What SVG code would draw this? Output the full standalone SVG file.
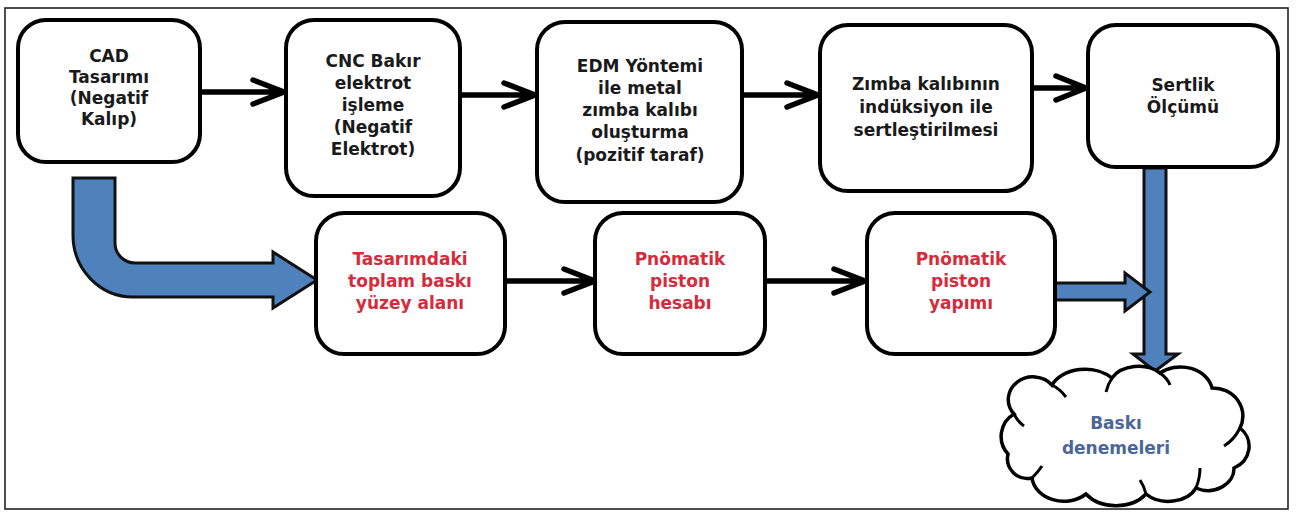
<svg xmlns="http://www.w3.org/2000/svg" width="1296" height="516" viewBox="0 0 1296 516">
<style>
.frame{fill:#ffffff;stroke:#222;stroke-width:1.6}
.box{fill:#ffffff;stroke:#000;stroke-width:4}
.t{font-family:"DejaVu Sans",Verdana,sans-serif;font-weight:bold;font-size:17px;text-anchor:middle;fill:#1a1a1a}
.r{fill:#D52B3A}
.c{fill:#4A6796}
.bl{fill:none;stroke:#000;stroke-width:5.5;stroke-linecap:round;stroke-linejoin:miter}
.blue{fill:#4F81BD;stroke:#111;stroke-width:3;stroke-linejoin:miter}
.cloud{fill:#ffffff;stroke:#000;stroke-width:3.5}
</style>
<rect class="frame" x="5" y="8" width="1283" height="501"/>

<g id="connectors">
  <path class="bl" d="M200 92 H284 M253 80 L284 92 L253 104"/>
  <path class="bl" d="M460 95 H535 M504 83 L535 95 L504 107"/>
  <path class="bl" d="M742 95 H818 M787 83 L818 95 L787 107"/>
  <path class="bl" d="M1032 88 H1086 M1056 76 L1086 88 L1056 100"/>
  <path class="bl" d="M505 281 H595 M564 269 L595 281 L564 293"/>
  <path class="bl" d="M765 281 H865 M834 269 L865 281 L834 293"/>
  <path class="blue" d="M73 178 H115 V243 A20 20 0 0 0 135 263 H273 V252 L317 280 L273 308 V297 H133 A60 62 0 0 1 73 235 Z"/>
  <path class="blue" d="M1144 168 H1166 V354 H1178 L1155 371 L1133 354 H1144 Z"/>
  <path class="blue" d="M1055 283 H1125 V273 L1150 292 L1125 311 V300 H1055 Z"/>
</g>

<g id="n1"><rect class="box" x="18" y="20" width="182" height="142" rx="28"/>
<text class="t"><tspan x="109" y="62">CAD</tspan><tspan x="109" y="83">Tasarımı</tspan><tspan x="109" y="104">(Negatif</tspan><tspan x="109" y="125">Kalıp)</tspan></text></g>

<g id="n2"><rect class="box" x="286" y="20" width="174" height="176" rx="28"/>
<text class="t"><tspan x="373" y="67">CNC Bakır</tspan><tspan x="373" y="89">elektrot</tspan><tspan x="373" y="111">işleme</tspan><tspan x="373" y="133">(Negatif</tspan><tspan x="373" y="155">Elektrot)</tspan></text></g>

<g id="n3"><rect class="box" x="537" y="22" width="205" height="180" rx="28"/>
<text class="t"><tspan x="640" y="72">EDM Yöntemi</tspan><tspan x="640" y="94">ile metal</tspan><tspan x="640" y="116">zımba kalıbı</tspan><tspan x="640" y="138">oluşturma</tspan><tspan x="640" y="161">(pozitif taraf)</tspan></text></g>

<g id="n4"><rect class="box" x="820" y="25" width="212" height="166" rx="28"/>
<text class="t"><tspan x="926" y="90">Zımba kalıbının</tspan><tspan x="926" y="113">indüksiyon ile</tspan><tspan x="926" y="136">sertleştirilmesi</tspan></text></g>

<g id="n5"><rect class="box" x="1088" y="25" width="190" height="142" rx="28"/>
<text class="t"><tspan x="1183" y="91">Sertlik</tspan><tspan x="1183" y="113">Ölçümü</tspan></text></g>

<g id="n6"><rect class="box" x="316" y="213" width="189" height="141" rx="28"/>
<text class="t r"><tspan x="410" y="265">Tasarımdaki</tspan><tspan x="410" y="287">toplam  baskı</tspan><tspan x="410" y="309">yüzey alanı</tspan></text></g>

<g id="n7"><rect class="box" x="595" y="213" width="170" height="141" rx="28"/>
<text class="t r"><tspan x="680" y="265">Pnömatik</tspan><tspan x="680" y="287">piston</tspan><tspan x="680" y="309">hesabı</tspan></text></g>

<g id="n8"><rect class="box" x="867" y="213" width="188" height="141" rx="28"/>
<text class="t r"><tspan x="961" y="265">Pnömatik</tspan><tspan x="961" y="287">piston</tspan><tspan x="961" y="309">yapımı</tspan></text></g>

<g id="n9">
<path class="cloud" d="M1014 414 A24 22 0 0 1 1052 385 A36 26 0 0 1 1112 378 A30 22 0 0 1 1160 373 A32 26 0 0 1 1212 388 A30 28 0 0 1 1240 428 A26 24 0 0 1 1234 468 A26 22 0 0 1 1196 488 A30 22 0 0 1 1146 494 A36 26 0 0 1 1086 494 A32 26 0 0 1 1032 478 A20 20 0 0 1 1008 454 A26 26 0 0 1 1014 414 Z"/>
<path fill="none" stroke="#000" stroke-width="3" d="M1052 385 Q1060 389 1066 397 M1112 378 Q1108 384 1106 392 M1160 373 Q1168 379 1170 385 M1240 428 Q1234 440 1224 446 M1196 488 Q1200 478 1200 468 M1146 494 Q1144 486 1140 480 M1032 478 Q1038 472 1042 466 M1014 414 Q1018 422 1024 426"/>
<text class="t c"><tspan x="1116" y="429">Baskı</tspan><tspan x="1116" y="454">denemeleri</tspan></text>
</g>
</svg>
